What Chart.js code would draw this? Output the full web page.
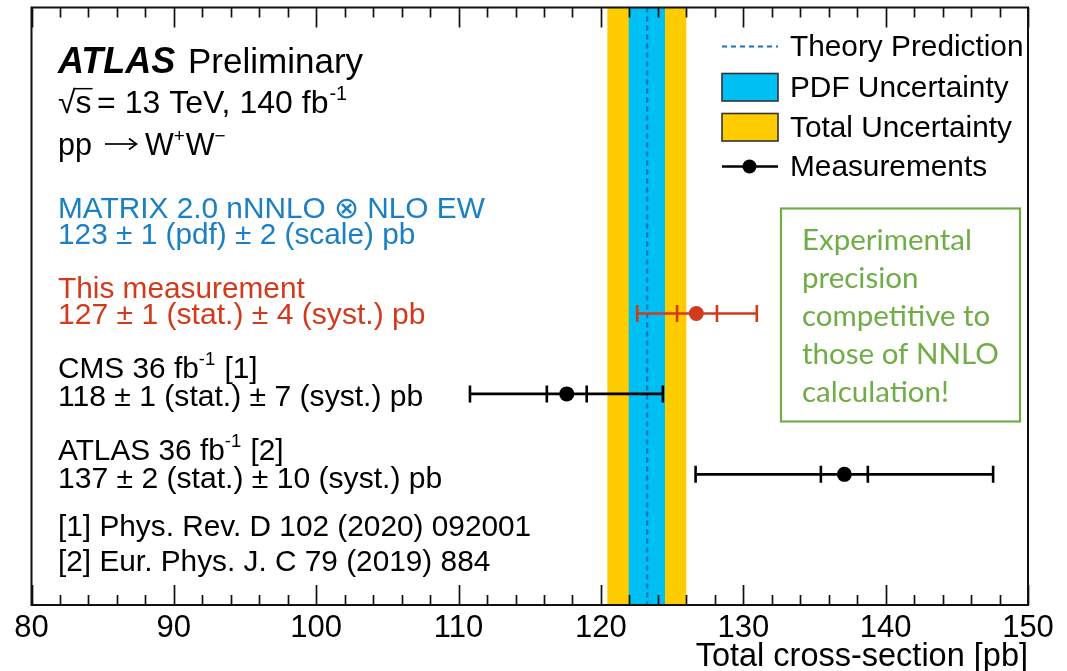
<!DOCTYPE html>
<html><head><meta charset="utf-8">
<script src="https://cdn.jsdelivr.net/npm/chart.js@4.4.1/dist/chart.umd.min.js"></script>
<style>html,body{margin:0;padding:0;background:#fff}#wrap{width:1067px;height:671px}</style>
</head><body><div id="wrap"><canvas id="c" width="1067" height="671"></canvas></div>
<script>
// ---------------- data ----------------
const xTickValues = [80, 90, 100, 110, 120, 130, 140, 150];
const measurementNames = ['This measurement', 'CMS 36 fb-1', 'ATLAS 36 fb-1'];
const measurementRows = [3, 2, 1];
const centralValues = [126.7, 117.6, 137.1];
const statLow  = [125.35, 116.2, 135.45];
const statHigh = [128.15, 119.0, 138.75];
const totalLow  = [122.55, 110.8, 126.65];
const totalHigh = [130.95, 124.35, 147.55];
const measurementColors = ['#D23A1B', '#000000', '#000000'];
const theoryCentral = 123.25;
const pdfBand = [121.95, 124.5];
const totalBand = [120.45, 126.0];

const FONT = '"Liberation Sans", Arial, Helvetica, sans-serif';
const BLUE_TXT = '#1B80C3';
const RED = '#D23A1B';
const CYAN = '#00BFF3';
const YELLOW = '#FFCC00';
const DASH = '#1A72B8';
const GREEN = '#70AD47';

function rich(ctx, x, y, parts, size, color, weightStyle) {
  ctx.fillStyle = color;
  ctx.textBaseline = 'alphabetic';
  ctx.textAlign = 'left';
  for (const p of parts) {
    let t = p, sup = false, f = weightStyle || '';
    if (typeof p === 'object') { t = p.t; sup = !!p.sup; if (p.f) f = p.f; }
    const s = sup ? size * 0.62 : size;
    ctx.font = f + ' ' + s + 'px ' + FONT;
    ctx.fillText(t, x, sup ? y - size * 0.42 : y);
    x += ctx.measureText(t).width + (sup ? 1 : 0);
  }
  return x;
}
function txt(ctx, t, x, y, size, color, f) {
  ctx.fillStyle = color; ctx.textBaseline = 'alphabetic'; ctx.textAlign = 'left';
  ctx.font = (f || '') + ' ' + size + 'px ' + FONT;
  ctx.fillText(t, x, y);
  return x + ctx.measureText(t).width;
}

const decor = {
  id: 'decor',
  beforeDatasetsDraw(chart) {
    const {ctx, chartArea: a, scales: {x, y}} = chart;
    ctx.save();
    ctx.beginPath(); ctx.rect(a.left, a.top, a.right - a.left, a.bottom - a.top); ctx.clip();
    ctx.fillStyle = YELLOW;
    ctx.fillRect(x.getPixelForValue(totalBand[0]), a.top, x.getPixelForValue(totalBand[1]) - x.getPixelForValue(totalBand[0]), a.bottom - a.top);
    ctx.fillStyle = CYAN;
    ctx.fillRect(x.getPixelForValue(pdfBand[0]), a.top, x.getPixelForValue(pdfBand[1]) - x.getPixelForValue(pdfBand[0]), a.bottom - a.top);
    ctx.strokeStyle = DASH; ctx.lineWidth = 2.2; ctx.setLineDash([5, 4]);
    const tx = x.getPixelForValue(theoryCentral);
    ctx.beginPath(); ctx.moveTo(tx, a.top); ctx.lineTo(tx, a.bottom); ctx.stroke();
    ctx.setLineDash([]);
    const cap = 8.5;
    for (let i = 0; i < centralValues.length; i++) {
      const py = y.getPixelForValue(measurementRows[i]);
      ctx.strokeStyle = measurementColors[i]; ctx.lineWidth = 2.6;
      const x0 = x.getPixelForValue(totalLow[i]), x1 = x.getPixelForValue(totalHigh[i]);
      ctx.beginPath(); ctx.moveTo(x0, py); ctx.lineTo(x1, py); ctx.stroke();
      for (const v of [totalLow[i], totalHigh[i], statLow[i], statHigh[i]]) {
        const px = x.getPixelForValue(v);
        ctx.beginPath(); ctx.moveTo(px, py - cap); ctx.lineTo(px, py + cap); ctx.stroke();
      }
    }
    ctx.restore();
  },
  afterDraw(chart) {
    const {ctx, chartArea: a, scales: {x}} = chart;
    ctx.save();
    ctx.strokeStyle = '#111'; ctx.lineWidth = 1.7;
    for (let v = 80; v <= 150; v += 2) {
      const px = Math.round(x.getPixelForValue(v)) + 0.5;
      const len = (v % 10 === 0) ? 20 : 10;
      ctx.beginPath();
      ctx.moveTo(px, a.bottom); ctx.lineTo(px, a.bottom - len);
      ctx.moveTo(px, a.top); ctx.lineTo(px, a.top + len);
      ctx.stroke();
    }
    ctx.lineWidth = 2; ctx.strokeStyle = '#111';
    ctx.strokeRect(a.left, a.top, a.right - a.left, a.bottom - a.top);

    const L = 58, S = 29.8;
    // ATLAS Preliminary
    txt(ctx, 'ATLAS', L, 73, 36, '#000', 'italic bold');
    txt(ctx, 'Preliminary', 188, 73, 35, '#000');
    // sqrt(s) line
    const B1 = 113, S1 = 32;
    txt(ctx, '\u221A', L, B1, S1, '#000');
    ctx.font = S1 + 'px ' + FONT;
    const wr = ctx.measureText('\u221A').width;
    txt(ctx, 's', L + wr, B1, S1, '#000');
    ctx.font = S1 + 'px ' + FONT;
    const sw = ctx.measureText('s').width;
    ctx.strokeStyle = '#000'; ctx.lineWidth = 1.5;
    ctx.beginPath(); ctx.moveTo(L + wr - 1, B1 - S1 * 0.76); ctx.lineTo(L + wr + sw + 1, B1 - S1 * 0.76); ctx.stroke();
    let e = 97;
    for (const tok of ['=', '13', 'TeV,', '140']) { e = txt(ctx, tok, e, B1, S1, '#000') + 9; }
    e = txt(ctx, 'fb', e, B1, S1, '#000');
    txt(ctx, '-1', e + 1, B1 - S1 * 0.42, S1 * 0.62, '#000');
    // pp -> W+W-
    const B2 = 155;
    txt(ctx, 'pp', L, B2, 30.5, '#000');
    const ay = 144;
    ctx.strokeStyle = '#000'; ctx.lineWidth = 1.7;
    ctx.beginPath(); ctx.moveTo(105, ay); ctx.lineTo(136, ay); ctx.stroke();
    ctx.beginPath(); ctx.moveTo(129, ay - 5.5); ctx.lineTo(136.5, ay); ctx.lineTo(129, ay + 5.5); ctx.stroke();
    rich(ctx, 145, B2, ['W', {t: '+', sup: true}, 'W', {t: '\u2212', sup: true}], 30.5, '#000');

    rich(ctx, L, 217.5, ['MATRIX 2.0 nNNLO \u2297 NLO EW'], S, BLUE_TXT);
    rich(ctx, L, 243.5, ['123 \u00B1 1 (pdf) \u00B1 2 (scale) pb'], S, BLUE_TXT);
    rich(ctx, L, 298, ['This measurement'], S, RED);
    rich(ctx, L, 323.5, ['127 \u00B1 1 (stat.) \u00B1 4 (syst.) pb'], 30.1, RED);
    rich(ctx, L, 378, ['CMS 36 fb', {t: '-1', sup: true}, ' [1]'], S, '#000');
    rich(ctx, L, 406, ['118 \u00B1 1 (stat.) \u00B1 7 (syst.) pb'], 30.1, '#000');
    rich(ctx, L, 460, ['ATLAS 36 fb', {t: '-1', sup: true}, ' [2]'], S, '#000');
    rich(ctx, L, 488, ['137 \u00B1 2 (stat.) \u00B1 10 (syst.) pb'], 30.1, '#000');
    rich(ctx, L, 536, ['[1] Phys. Rev. D 102 (2020) 092001'], S, '#000');
    rich(ctx, L, 571, ['[2] Eur. Phys. J. C 79 (2019) 884'], S, '#000');

    // legend
    const lx0 = 722, lx1 = 778, tx = 790;
    ctx.strokeStyle = DASH; ctx.lineWidth = 2.2; ctx.setLineDash([5, 4]);
    ctx.beginPath(); ctx.moveTo(lx0, 46.5); ctx.lineTo(lx1, 46.5); ctx.stroke(); ctx.setLineDash([]);
    rich(ctx, tx, 55.5, ['Theory Prediction'], S, '#000');
    ctx.lineWidth = 1.6; ctx.strokeStyle = '#333';
    ctx.fillStyle = CYAN; ctx.fillRect(lx0, 73.5, lx1 - lx0, 27.5); ctx.strokeRect(lx0, 73.5, lx1 - lx0, 27.5);
    rich(ctx, tx, 96.5, ['PDF Uncertainty'], S, '#000');
    ctx.fillStyle = YELLOW; ctx.fillRect(lx0, 113.5, lx1 - lx0, 27.5); ctx.strokeRect(lx0, 113.5, lx1 - lx0, 27.5);
    rich(ctx, tx, 136.5, ['Total Uncertainty'], S, '#000');
    ctx.strokeStyle = '#000'; ctx.lineWidth = 2.6;
    ctx.beginPath(); ctx.moveTo(lx0, 166.5); ctx.lineTo(lx1, 166.5); ctx.stroke();
    ctx.fillStyle = '#000'; ctx.beginPath(); ctx.arc(749.5, 166.5, 7, 0, Math.PI * 2); ctx.fill();
    rich(ctx, tx, 175.5, ['Measurements'], S, '#000');

    // green box
    ctx.strokeStyle = GREEN; ctx.lineWidth = 2.2;
    ctx.fillStyle = '#fff';
    ctx.fillRect(781, 208.5, 239, 213);
    ctx.strokeRect(781, 208.5, 239, 213);
    const glines = ['Experimental', 'precision', 'competitive to', 'those of NNLO', 'calculation!'];
    ctx.fillStyle = GREEN; ctx.font = '29.5px Lato, "Open Sans", sans-serif';
    ctx.textBaseline = 'alphabetic';
    glines.forEach((t, i) => ctx.fillText(t, 802, 250 + i * 38));
    ctx.restore();
  }
};

new Chart(document.getElementById('c'), {
  type: 'scatter',
  data: {
    datasets: [{
      label: 'Measurements',
      data: centralValues.map((v, i) => ({x: v, y: measurementRows[i]})),
      pointRadius: 7.5,
      pointHoverRadius: 7.5,
      pointBackgroundColor: measurementColors,
      pointBorderColor: measurementColors,
      pointBorderWidth: 0
    }]
  },
  options: {
    responsive: false,
    animation: false,
    devicePixelRatio: 1,
    layout: {padding: {left: 31.5, right: 39, top: 6, bottom: 0}},
    plugins: {legend: {display: false}, tooltip: {enabled: false}},
    scales: {
      x: {
        type: 'linear', min: 80, max: 150,
        afterBuildTicks: (s) => { s.ticks = xTickValues.map(v => ({value: v})); },
        afterFit: (s) => { s.height = 66; },
        grid: {display: false, drawTicks: false},
        border: {display: false},
        ticks: {font: {size: 31, family: FONT}, color: '#000', padding: 5, maxRotation: 0},
        title: {display: true, text: 'Total cross-section [pb]', align: 'end', color: '#000',
                font: {size: 32.5, family: FONT, lineHeight: 0.88}, padding: {top: 0, bottom: 0}}
      },
      y: {type: 'linear', min: -0.624, max: 6.803, display: false}
    }
  },
  plugins: [decor]
});
</script>
</body></html>
